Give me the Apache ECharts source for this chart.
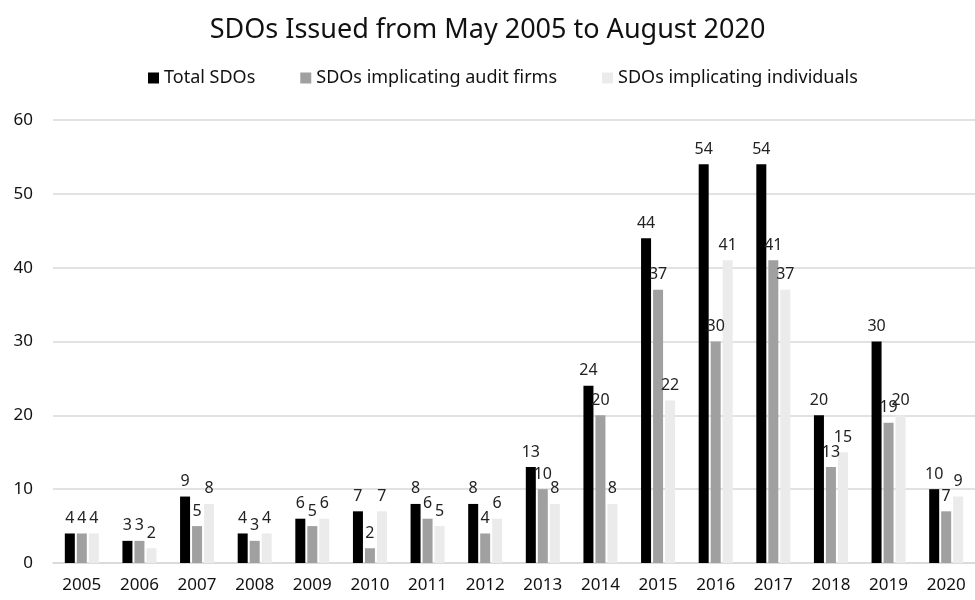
<!DOCTYPE html>
<html>
<head>
<meta charset="utf-8">
<script src="https://cdn.jsdelivr.net/npm/echarts@6/dist/echarts.min.js"></script>
<style>
  html, body { margin: 0; padding: 0; background: #fff; }
  #chart { width: 975px; height: 600px; }
</style>
</head>
<body>
<div id="chart"></div>
<script>
var years = ['2005', '2006', '2007', '2008', '2009', '2010', '2011', '2012', '2013', '2014', '2015', '2016', '2017', '2018', '2019', '2020'];
var totalSDOs = [4, 3, 9, 4, 6, 7, 8, 8, 13, 24, 44, 54, 54, 20, 30, 10];
var auditFirms = [4, 3, 5, 3, 5, 2, 6, 4, 10, 20, 37, 30, 41, 13, 19, 7];
var individuals = [4, 2, 8, 4, 6, 7, 5, 6, 8, 8, 22, 41, 37, 15, 20, 9];

var font = 'Noto Sans';
var chart = echarts.init(document.getElementById('chart'), null, { renderer: 'canvas' });

function barSeries(name, data, color) {
  return {
    name: name,
    type: 'bar',
    data: data,
    barWidth: 10,
    barGap: '20%',
    itemStyle: { color: color },
    label: {
      show: true,
      position: 'top',
      distance: 7,
      color: '#222',
      fontFamily: font,
      fontSize: 16
    }
  };
}

var options = {
  animation: false,
  title: {
    text: 'SDOs Issued from May 2005 to August 2020',
    left: 'center',
    top: 12,
    textStyle: { fontFamily: font, fontSize: 27, fontWeight: 'normal', color: '#111' }
  },
  legend: {
    top: 64,
    left: 143,
    itemWidth: 11,
    itemHeight: 11,
    itemGap: 45,
    icon: 'rect',
    textStyle: { fontFamily: font, fontSize: 18, color: '#111' },
    data: ['Total SDOs', 'SDOs implicating audit firms', 'SDOs implicating individuals']
  },
  grid: { left: 53, right: 0, top: 120, bottom: 37 },
  xAxis: {
    type: 'category',
    data: years,
    axisLine: { lineStyle: { color: '#d9d9d9', width: 1.5 } },
    axisTick: { show: false },
    axisLabel: { fontFamily: font, fontSize: 17, color: '#111', margin: 14 }
  },
  yAxis: {
    type: 'value',
    min: 0,
    max: 60,
    interval: 10,
    axisLine: { show: false },
    axisTick: { show: false },
    splitLine: { lineStyle: { color: '#d9d9d9', width: 1.5 } },
    axisLabel: { fontFamily: font, fontSize: 17, color: '#111', margin: 20 }
  },
  series: [
    barSeries('Total SDOs', totalSDOs, '#000000'),
    barSeries('SDOs implicating audit firms', auditFirms, '#a0a0a0'),
    barSeries('SDOs implicating individuals', individuals, '#ebebeb')
  ]
};
chart.setOption(options);
</script>
</body>
</html>
